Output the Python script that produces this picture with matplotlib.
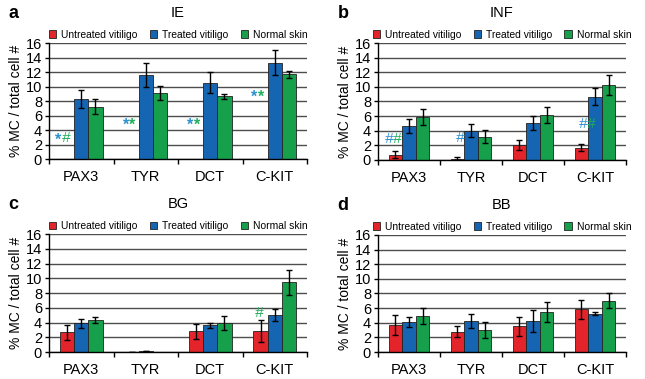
import numpy as np
import matplotlib.pyplot as plt

plt.rcParams['font.family'] = ['Liberation Sans', 'DejaVu Sans']

genes = ["PAX3", "TYR", "DCT", "C-KIT"]
groups = ["Untreated vitiligo", "Treated vitiligo", "Normal skin"]
colors = ["#e3242b", "#1565b3", "#16a04b"]

# IE
ie_untreated = [0, 0, 0, 0]
ie_treated = [8.3, 11.6, 10.5, 13.3]
ie_normal = [7.25, 9.1, 8.65, 11.7]
ie_untreated_err = [0, 0, 0, 0]
ie_treated_err = [1.25, 1.65, 1.45, 1.7]
ie_normal_err = [1.0, 1.0, 0.35, 0.5]

# INF
inf_untreated = [0.7, 0.18, 2.05, 1.7]
inf_treated = [4.6, 4.0, 5.1, 8.65]
inf_normal = [5.85, 3.2, 6.15, 10.25]
inf_untreated_err = [0.5, 0.25, 0.65, 0.5]
inf_treated_err = [0.95, 0.9, 0.95, 1.2]
inf_normal_err = [1.1, 0.85, 1.15, 1.35]

# BG
bg_untreated = [2.65, 0.05, 2.8, 2.85]
bg_treated = [3.9, 0.1, 3.6, 5.05]
bg_normal = [4.3, 0.0, 3.95, 9.45]
bg_untreated_err = [1.05, 0, 1.05, 1.5]
bg_treated_err = [0.6, 0, 0.3, 0.85]
bg_normal_err = [0.4, 0, 1.0, 1.75]

# BB
bb_untreated = [3.7, 2.75, 3.5, 5.85]
bb_treated = [4.15, 4.25, 4.3, 5.25]
bb_normal = [4.95, 3.05, 5.5, 7.0]
bb_untreated_err = [1.35, 0.75, 1.3, 1.3]
bb_treated_err = [0.7, 0.9, 1.5, 0.2]
bb_normal_err = [1.1, 1.1, 1.4, 1.0]

star_blue = "#2b8fd0"
star_green = "#1fae5a"

# annotations: (x, y, text, color)
ie_marks = [(-0.36, 2.9, "*", star_blue), (-0.24, 2.9, "#", star_green),
            (0.69, 5.0, "*", star_blue), (0.79, 5.0, "*", star_green),
            (1.69, 5.0, "*", star_blue), (1.79, 5.0, "*", star_green),
            (2.68, 8.85, "*", star_blue), (2.78, 8.85, "*", star_green)]
inf_marks = [(-0.33, 2.8, "#", star_blue), (-0.20, 2.8, "#", star_green),
             (0.82, 3.05, "#", star_blue),
             (2.81, 4.9, "#", star_blue), (2.93, 4.9, "#", star_green)]
bg_marks = [(2.76, 5.3, "#", star_green)]
bb_marks = []

panels = [
    ("a", "IE", [0.076, 0.580, 0.400, 0.3065],
     [ie_untreated, ie_treated, ie_normal],
     [ie_untreated_err, ie_treated_err, ie_normal_err], ie_marks),
    ("b", "INF", [0.586, 0.578, 0.3845, 0.3085],
     [inf_untreated, inf_treated, inf_normal],
     [inf_untreated_err, inf_treated_err, inf_normal_err], inf_marks),
    ("c", "BG", [0.076, 0.0712, 0.400, 0.311],
     [bg_untreated, bg_treated, bg_normal],
     [bg_untreated_err, bg_treated_err, bg_normal_err], bg_marks),
    ("d", "BB", [0.586, 0.0712, 0.3845, 0.3088],
     [bb_untreated, bb_treated, bb_normal],
     [bb_untreated_err, bb_treated_err, bb_normal_err], bb_marks),
]

fig = plt.figure(figsize=(6.45, 3.79), dpi=100)
x = np.arange(len(genes))
w = 0.22

for letter, title, rect, vals, errs, marks in panels:
    ax = fig.add_axes(rect)
    ax.set_axisbelow(True)
    ax.yaxis.grid(True, color="#4d4d4d", linewidth=1.0)
    for i in range(3):
        v = np.array(vals[i])
        e = np.array(errs[i])
        ax.bar(x + (i - 1) * w, v, w, color=colors[i], edgecolor="#222222",
               linewidth=0.6, label=groups[i], zorder=2)
        show = v > 0.02
        ax.errorbar((x + (i - 1) * w)[show], v[show], yerr=e[show], fmt="none",
                    ecolor="black", elinewidth=1.0, capsize=2.5, capthick=1.0, zorder=3)
    for mx, my, mt, mc in marks:
        if mt == "*":
            ax.text(mx, my - 0.3, mt, color=mc, fontsize=11.5, fontweight="bold",
                    ha="center", va="center", zorder=4)
        else:
            ax.text(mx, my, mt, color=mc, fontsize=11, fontstyle="italic",
                    ha="center", va="center", zorder=4)
    ax.set_xlim(-0.5, 3.5)
    ax.set_ylim(0, 16)
    ax.set_yticks(np.arange(0, 17, 2))
    ax.tick_params(axis="y", labelsize=10.5, length=3, width=1, pad=2)
    ax.set_xticks(x)
    ax.set_xticklabels(genes, fontsize=10.5)
    ax.tick_params(axis="x", length=0, pad=8)
    ax.set_xticks(np.arange(-0.5, 4, 1), minor=True)
    ax.tick_params(axis="x", which="minor", length=3.5, width=1, direction="out")
    ax.spines["top"].set_visible(False)
    ax.spines["right"].set_visible(False)
    ax.spines["left"].set_linewidth(1.0)
    ax.spines["bottom"].set_linewidth(1.0)
    ax.set_ylabel("% MC / total cell #", fontsize=10, labelpad=2)
    ax.legend(loc="lower center", bbox_to_anchor=(0.5, 1.01), ncol=3, frameon=False,
              fontsize=7.4, handlelength=0.75, handleheight=0.75, handletextpad=0.45,
              columnspacing=1.2, borderaxespad=0.1, borderpad=0.1)
    ax.text(0.5, 1.255, title, transform=ax.transAxes, ha="center", va="center",
            fontsize=10.5)
    fig.text(rect[0] - 0.063, rect[1] + rect[3] + 0.078, letter, fontsize=13,
             fontweight="bold", ha="left", va="center")

fig.savefig("out.png", dpi=100)
